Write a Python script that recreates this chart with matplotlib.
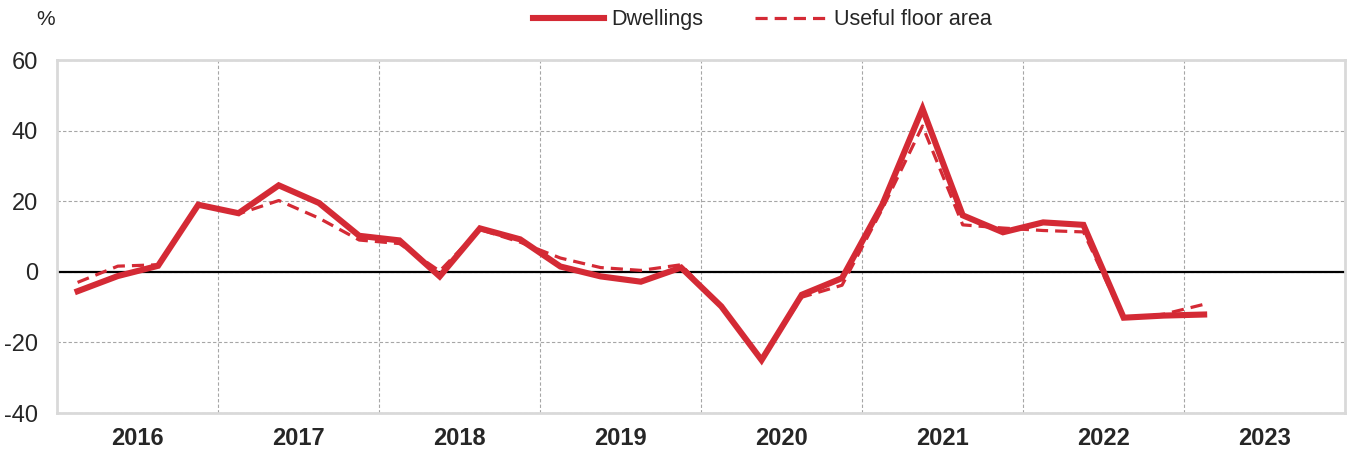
import matplotlib
matplotlib.use('Agg')
import matplotlib.pyplot as plt
import numpy as np

plt.rcParams['font.family'] = ['Liberation Sans Narrow', 'Liberation Sans', 'DejaVu Sans']
plt.rcParams['axes.unicode_minus'] = False

# quarterly data, 2016Q1 .. 2023Q1 (% change)
years = ['2016', '2017', '2018', '2019', '2020', '2021', '2022', '2023']
dwellings = [-5.5, -1.2, 1.7, 19.0, 16.6, 24.5, 19.5, 10.2, 8.9, -1.3, 12.3, 9.2,
             1.5, -1.3, -2.8, 1.2, -9.8, -25.0, -6.5, -1.8, 19.0, 46.2, 16.0, 11.2,
             14.0, 13.3, -13.0, -12.4, -12.1]
floor_area = [-3.0, 1.6, 2.0, 19.0, 16.4, 20.2, 15.2, 9.0, 8.0, 0.2, 12.0, 8.4,
              3.9, 1.2, 0.4, 2.0, -10.0, -25.0, -7.2, -3.8, 17.8, 41.3, 13.3, 12.4,
              11.7, 11.3, -13.2, -12.0, -9.2]

red = '#d42a35'
txt = '#262626'

fig = plt.figure(figsize=(13.49, 4.53), dpi=100)
ax = fig.add_axes([0.0426, 0.0883, 0.9544, 0.7792])

x = np.arange(len(dwellings))
ax.plot(x, dwellings, color=red, lw=4.4, solid_joinstyle='miter', label='Dwellings', zorder=4)
ax.plot(x, floor_area, color=red, lw=2.3, linestyle=(0, (3.8, 2.2)), label='Useful floor area', zorder=3)
ax.axhline(0, color='black', lw=1.6, zorder=2)

ax.set_xlim(-0.5, 4 * len(years) - 0.5)
ax.set_ylim(-40, 60)
ax.set_yticks(np.arange(-40, 61, 20))

# year boundaries as grid, labels centred in each year
ax.set_xticks(np.arange(3.5, 4 * len(years) - 1, 4))
ax.set_xticklabels([])
ax.set_xticks(np.arange(1.5, 4 * len(years), 4), minor=True)
ax.set_xticklabels(years, minor=True, fontsize=17, fontweight='bold', color=txt)
ax.tick_params(axis='x', which='both', length=0)
ax.tick_params(axis='x', which='minor', pad=10)
ax.tick_params(axis='y', length=0, labelsize=17, labelcolor=txt, pad=14)

ax.grid(True, which='major', color='#a6a6a6', lw=0.8, linestyle=(0, (3, 2)))
for s in ax.spines.values():
    s.set_color('#d9d9d9')
    s.set_linewidth(2)

fig.text(0.034, 0.956, '%', fontsize=15, color=txt, ha='center', va='center')
fig.legend(loc='center', bbox_to_anchor=(0.565, 0.956), ncol=2, frameon=False,
           fontsize=15.5, handlelength=3.3, handletextpad=0.35, columnspacing=2.4,
           labelcolor=txt)

fig.savefig('out.png', dpi=100)
